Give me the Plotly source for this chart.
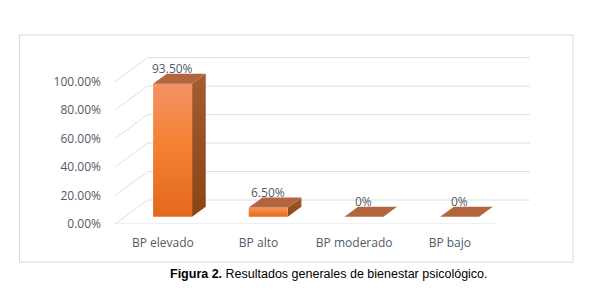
import plotly.graph_objects as go

# ---------------- data ----------------
categories = ["BP elevado", "BP alto", "BP moderado", "BP bajo"]
values = [93.5, 6.5, 0.0, 0.0]
value_labels = ["93.50%", "6.50%", "0%", "0%"]
y_ticks = [0, 20, 40, 60, 80, 100]
y_tick_labels = ["0.00%", "20.00%", "40.00%", "60.00%", "80.00%", "100.00%"]
caption_bold = "Figura 2."
caption_text = " Resultados generales de bienestar psicológico."

# ---------------- geometry / style ----------------
FIG_W, FIG_H = 602, 294
OFF = 8             # page body margin of the html page
# layout measured in screen pixels, converted to figure pixels
PLOT_LEFT, PLOT_RIGHT, PLOT_TOP, PLOT_BOTTOM = 115, 531, 40, 224.3
L = PLOT_LEFT - OFF
R = FIG_W - (PLOT_RIGHT - OFF)
T = PLOT_TOP - OFF
B = FIG_H - (PLOT_BOTTOM - OFF)
PLOT_W = FIG_W - L - R
PLOT_H = FIG_H - T - B
UX = 95.67          # px per category
UY = 1.426          # px per percent
X_RANGE = [-0.5, -0.5 + PLOT_W / UX]
Y_RANGE = [0, PLOT_H / UY]
DX = 32.5 / UX      # full depth of the 3D floor in x data units
DY = 24.0 / UY      # full depth in y data units
F0, F1 = 0.30, 0.72  # bar front / back depth fractions
HW = 19.5 / UX      # half bar width

TEXT_COLOR = "#525a68"
GRID_COLOR = "#dcdfe4"
FONT = "Open Sans"


def px_x(px):
    return (px - OFF - L) / PLOT_W


def px_y(py):
    return (FIG_H - B - (py - OFF)) / PLOT_H


fig = go.Figure()

# gridlines: back wall, left wall diagonals, floor front edge
gx, gy = [], []
x0, x1 = X_RANGE[0], len(categories) - 0.5
for v in y_ticks:
    gx += [x0 + DX, x1 + DX, None]
    gy += [v + DY, v + DY, None]
    gx += [x0, x0 + DX, None]
    gy += [v, v + DY, None]
gx += [x0, x1, None]
gy += [0, 0, None]
fig.add_trace(go.Scatter(x=gx, y=gy, mode="lines",
                         line=dict(color=GRID_COLOR, width=1),
                         hoverinfo="skip", showlegend=False))

# 3D bars
for i, v in enumerate(values):
    xl = i + F0 * DX - HW
    xr = i + F0 * DX + HW
    yb = F0 * DY
    yt = yb + v
    ddx = (F1 - F0) * DX
    ddy = (F1 - F0) * DY
    if v > 0:
        # side face
        fig.add_trace(go.Scatter(
            x=[xr, xr + ddx, xr + ddx, xr, xr],
            y=[yb, yb + ddy, yt + ddy, yt, yb],
            fill="toself", mode="none",
            fillgradient=dict(type="vertical",
                              colorscale=[[0, "#8a4412"], [1, "#a65b33"]]),
            hoverinfo="skip", showlegend=False))
        # front face
        fig.add_trace(go.Scatter(
            x=[xl, xr, xr, xl, xl],
            y=[yb, yb, yt, yt, yb],
            fill="toself", mode="none",
            fillgradient=dict(type="vertical",
                              colorscale=[[0, "#e3681c"], [0.5, "#f47f2f"],
                                          [1, "#f29364"]]),
            hoverinfo="skip", showlegend=False))
    # top face
    fig.add_trace(go.Scatter(
        x=[xl, xr, xr + ddx, xl + ddx, xl],
        y=[yt, yt, yt + ddy, yt + ddy, yt],
        fill="toself", mode="none", fillcolor="#b3663d",
        hoverinfo="skip", showlegend=False))
    fig.add_annotation(x=i + F0 * DX, y=v + F1 * DY, yshift=5,
                       text=value_labels[i], showarrow=False,
                       xanchor="center", yanchor="middle",
                       font=dict(family=FONT, size=12, color=TEXT_COLOR))

# caption
fig.add_annotation(xref="paper", yref="paper", x=px_x(329), y=px_y(274),
                   text="<b>" + caption_bold + "</b>" + caption_text,
                   showarrow=False, xanchor="center", yanchor="middle",
                   font=dict(family="Liberation Sans", size=12.5, color="#000000"))

# outer border
fig.add_shape(type="rect", xref="paper", yref="paper",
              x0=px_x(19.5), x1=px_x(573), y0=px_y(262.5), y1=px_y(35),
              line=dict(color="#d9d9d9", width=1), fillcolor="rgba(0,0,0,0)",
              layer="below")

fig.update_layout(
    width=FIG_W, height=FIG_H,
    margin=dict(l=L, r=R, t=T, b=B, pad=0),
    paper_bgcolor="white", plot_bgcolor="rgba(0,0,0,0)",
    showlegend=False,
    font=dict(family=FONT, size=12, color=TEXT_COLOR),
    xaxis=dict(range=X_RANGE, tickvals=list(range(len(categories))),
               ticktext=categories, showgrid=False, zeroline=False,
               showline=False, ticks="", ticklabelstandoff=10,
               fixedrange=True),
    yaxis=dict(range=Y_RANGE, tickvals=y_ticks, ticktext=y_tick_labels,
               showgrid=False, zeroline=False, showline=False, ticks="",
               ticklabelstandoff=13, fixedrange=True),
)

fig.write_html("out.html")
